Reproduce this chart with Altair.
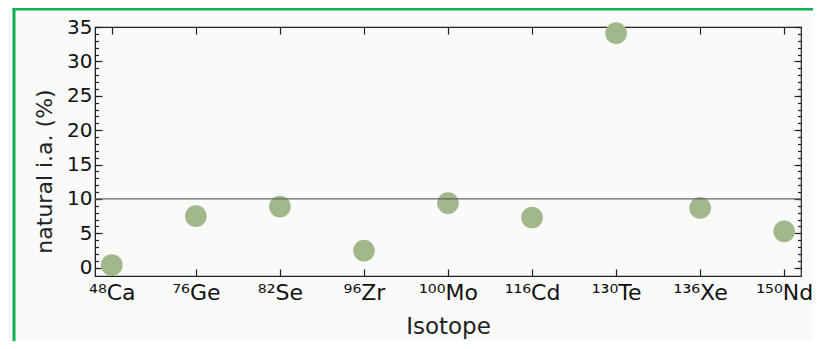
import altair as alt
import pandas as pd

isotopes = ["⁴⁸Ca", "⁷⁶Ge", "⁸²Se", "⁹⁶Zr", "¹⁰⁰Mo", "¹¹⁶Cd", "¹³⁰Te", "¹³⁶Xe", "¹⁵⁰Nd"]
abundance = [0.4, 7.5, 8.9, 2.5, 9.4, 7.3, 34.1, 8.7, 5.3]
ref_value = [10]

df = pd.DataFrame({"idx": list(range(len(isotopes))), "iso": isotopes, "ab": abundance})
ref = pd.DataFrame({"v": ref_value})

W, H = 706, 249
PL, PT, PR, PB = 87, 19, 12, 65
FONT = "DejaVu Sans"
label_expr = "[" + ",".join("'%s'" % s for s in isotopes) + "][datum.value]"

xs = alt.Scale(domain=[-0.2, 8.2], nice=False, zero=False)
ys = alt.Scale(domain=[-1.2, 35], nice=False, zero=False)
major = list(range(0, 36, 5))
minor = list(range(0, 36))
xticks = list(range(len(isotopes)))

base = alt.Chart(df)

points = base.mark_circle(size=470, color="#a2b88b", opacity=1).encode(
    x=alt.X("idx:Q", scale=xs, title="Isotope",
            axis=alt.Axis(values=xticks, labelExpr=label_expr, ticks=False,
                          grid=False, labelFontSize=22, titleFontSize=23,
                          labelPadding=6, titlePadding=12, domainColor="#222",
                          labelColor="#111", titleColor="#222", titleFontWeight="normal",
                          labelFont=FONT, titleFont=FONT)),
    y=alt.Y("ab:Q", scale=ys, title="natural i.a. (%)",
            axis=alt.Axis(values=major, ticks=False, grid=False, labelFontSize=20,
                          titleFontSize=22, labelPadding=3, titlePadding=10,
                          titleY=144,
                          domainColor="#222", labelColor="#111", titleColor="#222",
                          titleFontWeight="normal", labelFont=FONT, titleFont=FONT)),
)

rule = alt.Chart(ref).mark_rule(color="#666", strokeWidth=1.3).encode(
    y=alt.Y("v:Q", scale=ys, axis=None)
)

frame_left = alt.Chart(ref).mark_rule(color="#0db04b", strokeWidth=3).encode(
    x=alt.value(-81), y=alt.value(-PT), y2=alt.value(H + PB)
)
frame_top = alt.Chart(ref).mark_rule(color="#0db04b", strokeWidth=3).encode(
    y=alt.value(-PT + 1), x=alt.value(-82.5), x2=alt.value(W + PR)
)

def tick_layer(xaxis=None, yaxis=None):
    return base.mark_circle(opacity=0).encode(
        x=alt.X("idx:Q", scale=xs, title=None, axis=xaxis),
        y=alt.Y("ab:Q", scale=ys, title=None, axis=yaxis),
    )

def tick_axis(orient, offset, values, size):
    return alt.Axis(orient=orient, offset=offset, values=values, tickSize=size,
                    labels=False, domain=False, grid=False, tickColor="#222",
                    tickWidth=1.2)

layers = [
    points,
    rule,
    tick_layer(xaxis=tick_axis("top", -H, xticks, 7)),
    tick_layer(xaxis=tick_axis("bottom", -H, xticks, 7)),
    tick_layer(yaxis=tick_axis("right", -W, major, 7)),
    tick_layer(yaxis=tick_axis("left", -W, major, 7)),
    tick_layer(yaxis=tick_axis("right", -W, minor, 3.5)),
    tick_layer(yaxis=tick_axis("left", -W, minor, 3.5)),
    frame_left,
    frame_top,
]

chart = alt.layer(*layers).resolve_axis(x="independent", y="independent").properties(
    width=W, height=H,
    autosize=alt.AutoSizeParams(type="none"),
    padding={"left": PL, "top": PT, "right": PR, "bottom": PB},
    background="#fafafa",
).configure_view(stroke="#222", strokeWidth=1.2, fill="#fafafa")

chart.save("out.html", embed_options={"renderer": "svg", "actions": False})
